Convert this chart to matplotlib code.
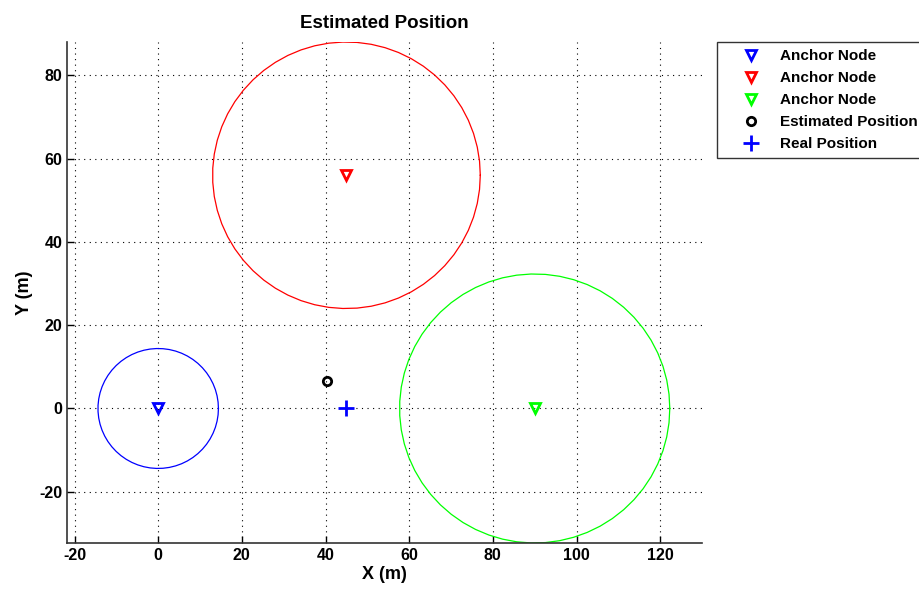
import matplotlib.pyplot as plt
import numpy as np

# anchor nodes: x, y, measured range (m), colour
anchor_x = [0, 45, 90]
anchor_y = [0, 56, 0]
anchor_r = [14.4, 32.0, 32.3]
anchor_colors = ['#0000ff', '#ff0000', '#00ff00']

est_pos = (40.3, 6.5)
real_pos = (45, 0)

plt.rcParams['font.family'] = ['Liberation Sans', 'DejaVu Sans']
plt.rcParams['font.weight'] = 'bold'
plt.rcParams['axes.unicode_minus'] = False

fig = plt.figure(figsize=(9.2, 5.92), dpi=100)
ax = fig.add_axes([67 / 920, 1 - 543 / 592, 635 / 920, 501 / 592])

theta = np.linspace(0, 2 * np.pi, 60)
handles = []
for x, y, r, c in zip(anchor_x, anchor_y, anchor_r, anchor_colors):
    ax.plot(x + r * np.cos(theta), y + r * np.sin(theta), color=c, lw=0.9)
    h, = ax.plot(x, y, 'v', mfc='none', mec=c, mew=2, ms=7, label='Anchor Node')
    handles.append(h)

h_est, = ax.plot(*est_pos, 'o', mfc='none', mec='black', mew=2, ms=6,
                 label='Estimated Position')
h_real, = ax.plot(*real_pos, '+', color='#0000ff', mew=2, ms=11,
                  label='Real Position')
handles += [h_est, h_real]

ax.set_xlim(-21.8, 130)
ax.set_ylim(-32.3, 88)
ax.set_xticks(np.arange(-20, 121, 20))
ax.set_yticks(np.arange(-20, 81, 20))

ax.grid(True, color='black', linestyle=(0, (1, 4)), linewidth=0.8)
ax.tick_params(direction='in', length=5, labelsize=11.5, width=1)
for lab in ax.get_xticklabels() + ax.get_yticklabels():
    lab.set_fontweight('bold')
for s in ['top', 'right']:
    ax.spines[s].set_visible(False)
for s in ['left', 'bottom']:
    ax.spines[s].set_linewidth(1.2)
    ax.spines[s].set_color('#333333')

ax.set_title('Estimated Position', fontsize=13.5, fontweight='bold', pad=10)
ax.set_xlabel('X (m)', fontsize=13, fontweight='bold', labelpad=2)
ax.set_ylabel('Y (m)', fontsize=13, fontweight='bold', labelpad=4)

leg = fig.legend(handles=handles, loc='upper left',
                 bbox_to_anchor=(717 / 920, 1 - 42 / 592),
                 prop={'weight': 'bold', 'size': 11}, fancybox=False,
                 edgecolor='#333333', framealpha=1, borderpad=0.45,
                 labelspacing=0.53, handlelength=3.5, handletextpad=0.2,
                 borderaxespad=0, numpoints=1)
leg.get_frame().set_linewidth(1.0)

fig.savefig('out.png', dpi=100)
